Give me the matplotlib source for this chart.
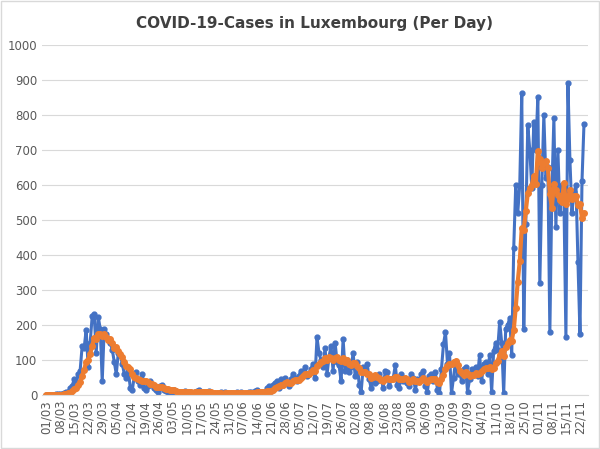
import pandas as pd
import matplotlib
matplotlib.use('Agg')
from matplotlib import pyplot as plt

march = [0, 0, 0, 1, 1, 2, 2, 3, 3, 5, 10, 8, 20, 26, 45, 31, 59, 70, 140, 135,
         186, 80, 150, 225, 232, 120, 224, 190, 40, 190, 175]
april = [160, 150, 130, 95, 60, 120, 115, 90, 60, 50, 70, 20, 15, 55, 65, 40, 30,
         60, 20, 15, 25, 40, 30, 20, 15, 10, 25, 30, 15, 12]
may = [10, 8, 5, 15, 12, 10, 3, 8, 12, 5, 10, 7, 4, 9, 12, 15, 5, 8, 3, 10, 12,
       6, 4, 3, 2, 5, 8, 3, 10, 5, 4]
june = [5, 6, 3, 8, 4, 10, 2, 3, 5, 8, 10, 4, 12, 15, 6, 8, 10, 5, 20, 25, 12,
        30, 35, 40, 20, 45, 30, 50, 35, 25]
july = [45, 60, 50, 40, 55, 70, 65, 80, 55, 60, 75, 90, 50, 165, 120, 100, 80,
        135, 60, 110, 140, 70, 150, 95, 85, 40, 160, 70, 100, 65, 80]
august = [120, 55, 95, 30, 10, 80, 70, 90, 45, 20, 55, 35, 40, 60, 45, 20, 70,
          65, 25, 45, 50, 85, 30, 20, 60, 40, 50, 35, 25, 60, 50]
september = [15, 45, 40, 60, 70, 25, 10, 55, 60, 40, 65, 15, 5, 75, 145, 180, 90,
             120, 5, 50, 95, 60, 70, 40, 75, 80, 10, 45, 75, 70]
october = [80, 55, 115, 40, 90, 95, 60, 115, 10, 125, 150, 130, 210, 150, 5, 190,
           200, 220, 115, 420, 600, 520, 600, 862, 190, 490, 770, 700, 590, 780, 700]
november = [850, 320, 600, 800, 620, 650, 180, 580, 790, 480, 700, 520, 600, 560,
            165, 890, 670, 520, 580, 600, 380, 175, 610, 775]

cases = march + april + may + june + july + august + september + october + november
dates = pd.date_range('2020-03-01', periods=len(cases), freq='D')
s = pd.Series(cases, index=dates)
avg = s.rolling(7, min_periods=1).mean()

fig, ax = plt.subplots(figsize=[6.0, 4.49], dpi=100)
ax.plot(range(len(s)), s.values, color='#4472C4', lw=2.2, marker='o', ms=3.5)
ax.plot(range(len(s)), avg.values, color='#ED7D31', lw=3, marker='o', ms=4)

ticks = list(range(0, len(s), 7))
ax.set_xticks(ticks)
ax.set_xticklabels([dates[i].strftime('%d/%m') for i in ticks], rotation=90,
                   fontsize=8.5, color='#595959')
ax.set_xlim(-2, len(s) + 1)
ax.set_ylim(0, 1000)
ax.set_yticks(range(0, 1001, 100))
ax.tick_params(axis='y', labelsize=8.5, colors='#595959', length=0)
ax.tick_params(axis='x', length=0)
ax.grid(axis='y', color='#D9D9D9', lw=0.8)
ax.set_axisbelow(True)
for sp in ['top', 'right', 'left']:
    ax.spines[sp].set_visible(False)
ax.spines['bottom'].set_color('#D9D9D9')
ax.set_title('COVID-19-Cases in Luxembourg (Per Day)', fontsize=11,
             fontweight='bold', color='#404040', pad=12)

fig.patches.append(plt.Rectangle((0.002, 0.002), 0.996, 0.996, fill=False,
                                 edgecolor='#D9D9D9', lw=1,
                                 transform=fig.transFigure))
plt.subplots_adjust(left=0.07, right=0.98, top=0.9, bottom=0.12)
plt.savefig('out.png')
